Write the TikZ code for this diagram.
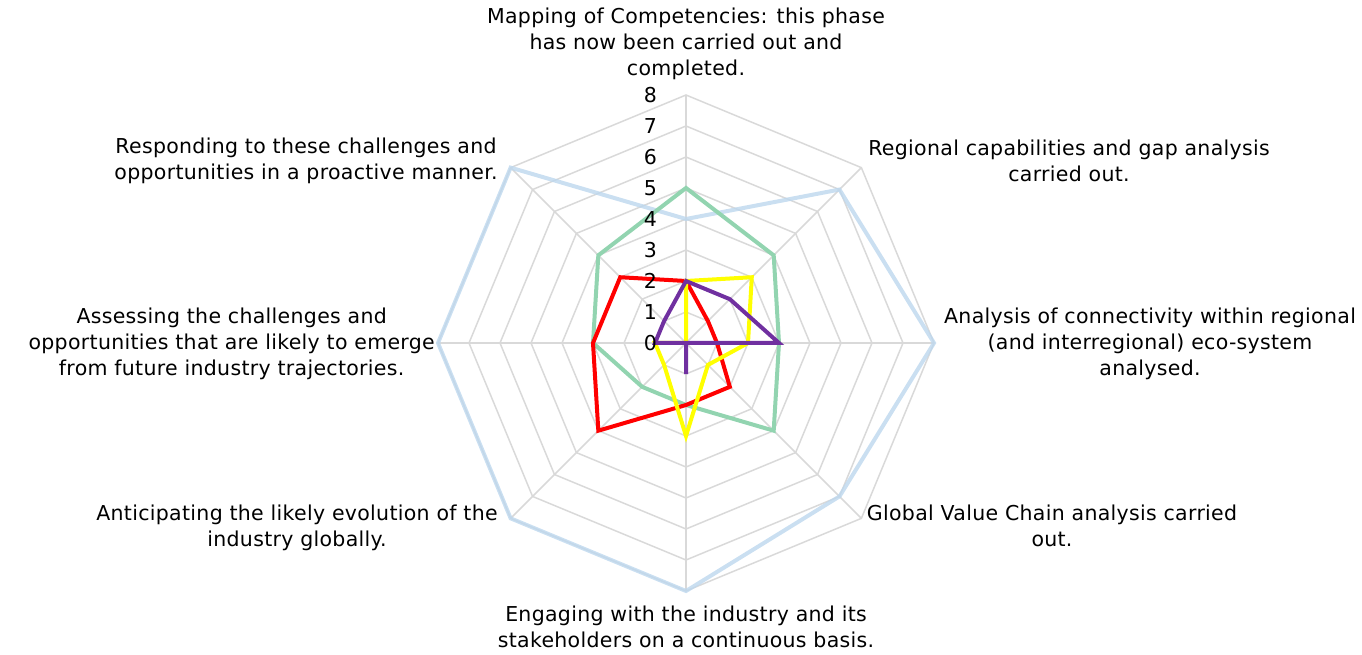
\documentclass[tikz,border=0pt]{standalone}
\usepackage{fontspec}
\setmainfont{DejaVu Sans}[LetterSpace=1.5]
\usepackage{tikz}
\usetikzlibrary{positioning,calc}

\definecolor{gridgray}{RGB}{217,217,217}
\definecolor{seriesblue}{RGB}{189,215,238}
\definecolor{seriesgreen}{RGB}{146,212,176}
\definecolor{seriesyellow}{RGB}{255,255,0}
\definecolor{seriesred}{RGB}{255,0,0}
\definecolor{seriespurple}{RGB}{112,48,160}

\newcommand{\ringstep}{31}

\tikzset{
  gridline/.style={draw=gridgray, line width=1.5pt},
  series/.style={line width=4pt, line join=miter},
  axislabel/.style={align=center, font=\fontsize{20.5}{26}\selectfont, inner sep=0pt},
  ticklabel/.style={anchor=east, font=\fontsize{20.5}{23}\selectfont, inner sep=0pt},
}

\begin{document}
\begin{tikzpicture}[x=1pt, y=1pt]
\useasboundingbox (0,0) rectangle (1362,654);
\coordinate (c) at (686,311);

% grid rings and spokes
\begin{scope}[shift={(c)}]
\foreach \r in {1,...,8}
  \draw[gridline] (90:\r*\ringstep) \foreach \a in {45,0,...,-225} { -- (\a:\r*\ringstep) } -- cycle;
\foreach \a in {0,45,...,315}
  \draw[gridline] (0,0) -- (\a:8*\ringstep);

% data series (N, NE, E, SE, S, SW, W, NW)
\draw[series, seriesblue, opacity=0.8] (90:4*\ringstep) \foreach \v [count=\k] in {7,8,7,8,8,8,8} { -- (90-45*\k:\v*\ringstep) } -- cycle;
\draw[series, seriesgreen] (90:5*\ringstep) \foreach \v [count=\k] in {4,3,4,2,2,3,4} { -- (90-45*\k:\v*\ringstep) } -- cycle;
\draw[series, seriesred] (90:2*\ringstep) \foreach \v [count=\k] in {1,1,2,2,4,3,3} { -- (90-45*\k:\v*\ringstep) } -- cycle;
\draw[series, seriesyellow] (90:2*\ringstep) \foreach \v [count=\k] in {3,2,1,3,1,1,0} { -- (90-45*\k:\v*\ringstep) } -- cycle;
\draw[series, seriespurple] (90:2*\ringstep) \foreach \v [count=\k] in {2,3,0,1,0,1,1} { -- (90-45*\k:\v*\ringstep) } -- cycle;

% scale
\foreach \v in {0,...,8}
  \node[ticklabel] (tick\v) at (-29,\v*\ringstep) {\v};
\end{scope}

% axis labels
\node[axislabel] (lblmapping) at (686,610) {Mapping of Competencies: this phase\\has now been carried out and\\completed.};
\node[axislabel] (lblregional) at (1069,493) {Regional capabilities and gap analysis\\carried out.};
\node[axislabel] (lblconnect) at (1150,310) {Analysis of connectivity within regional\\(and interregional) eco-system\\analysed.};
\node[axislabel] (lblvalue) at (1052,128) {Global Value Chain analysis carried\\out.};
\node[axislabel] (lblengage) at (686,27) {Engaging with the industry and its\\stakeholders on a continuous basis.};
\node[axislabel] (lblanticip) at (297,126) {Anticipating the likely evolution of the\\industry globally.};
\node[axislabel, anchor=east] (lblassess) at (435,310) {Assessing the challenges and\\opportunities that are likely to emerge\\from future industry trajectories.};
\node[axislabel] (lblrespond) at (306,493) {Responding to these challenges and\\opportunities in a proactive manner.};
\end{tikzpicture}
\end{document}
